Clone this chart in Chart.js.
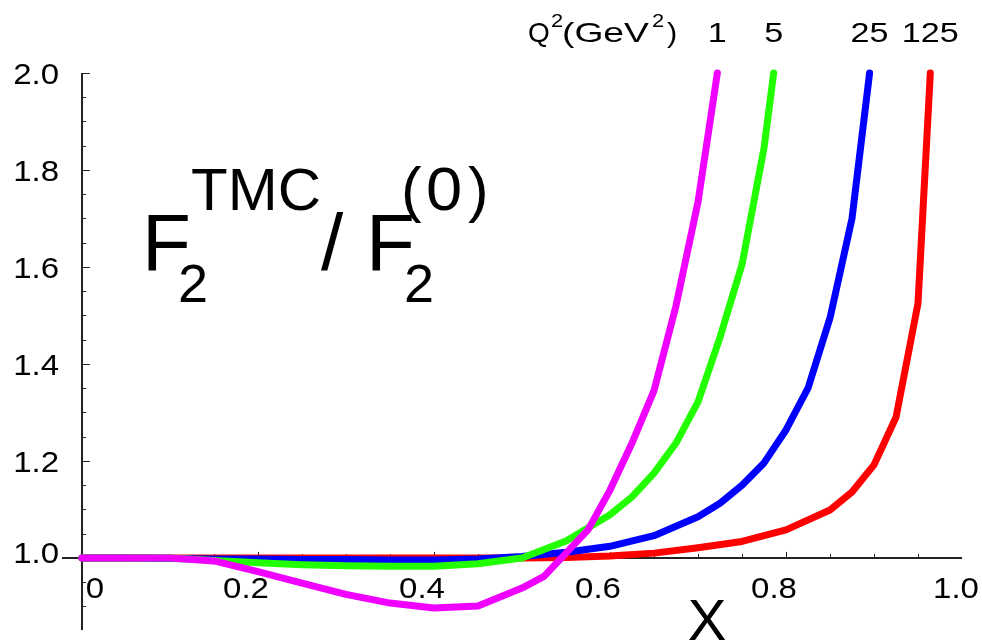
<!DOCTYPE html>
<html>
<head>
<meta charset="utf-8">
<script src="https://cdn.jsdelivr.net/npm/chart.js@4.4.1/dist/chart.umd.min.js"></script>
<style>
  html, body { margin: 0; padding: 0; background: #ffffff; }
  canvas { display: block; }
</style>
</head>
<body>
<canvas id="chart" width="982" height="643"></canvas>
<script>
// Q^2 values (GeV^2) of the four curves
const Q2_LABELS = ['1', '5', '25', '125'];

// Q^2 = 1 GeV^2
const x_q1 = [0, 0.05, 0.1, 0.15, 0.2, 0.25, 0.3, 0.35, 0.4, 0.45, 0.5, 0.525, 0.55, 0.575, 0.6, 0.625, 0.65, 0.675, 0.7, 0.722];
const ratio_q1 = [1.0, 1.0, 1.0, 0.994, 0.972, 0.948, 0.925, 0.907, 0.897, 0.901, 0.938, 0.962, 1.01, 1.058, 1.14, 1.237, 1.345, 1.52, 1.734, 2.0];

// Q^2 = 5 GeV^2
const x_q5 = [0, 0.05, 0.1, 0.15, 0.2, 0.25, 0.3, 0.35, 0.4, 0.45, 0.5, 0.55, 0.6, 0.625, 0.65, 0.675, 0.7, 0.725, 0.75, 0.775, 0.786];
const ratio_q5 = [1.0, 1.0, 1.0, 0.995, 0.99, 0.986, 0.984, 0.983, 0.983, 0.988, 1.0, 1.035, 1.089, 1.126, 1.175, 1.237, 1.322, 1.455, 1.605, 1.845, 2.0];

// Q^2 = 25 GeV^2
const x_q25 = [0, 0.05, 0.1, 0.15, 0.2, 0.25, 0.3, 0.35, 0.4, 0.45, 0.5, 0.55, 0.6, 0.65, 0.7, 0.725, 0.75, 0.775, 0.8, 0.825, 0.85, 0.875, 0.895];
const ratio_q25 = [1.0, 1.0, 0.999, 0.998, 0.998, 0.997, 0.997, 0.996, 0.996, 0.998, 1.003, 1.012, 1.024, 1.046, 1.085, 1.113, 1.15, 1.196, 1.264, 1.35, 1.495, 1.70, 2.0];

// Q^2 = 125 GeV^2
const x_q125 = [0, 0.1, 0.2, 0.3, 0.4, 0.5, 0.55, 0.6, 0.65, 0.7, 0.75, 0.8, 0.85, 0.875, 0.9, 0.925, 0.95, 0.964];
const ratio_q125 = [1.0, 1.0, 1.0, 1.0, 1.0, 1.0, 1.001, 1.004, 1.01, 1.021, 1.034, 1.058, 1.099, 1.136, 1.192, 1.29, 1.525, 2.0];

// Axis tick labels
const X_TICK_VALUES = [0, 0.2, 0.4, 0.6, 0.8, 1.0];
const X_TICK_LABELS = ['0', '0.2', '0.4', '0.6', '0.8', '1.0'];
const Y_TICK_VALUES = [1.0, 1.2, 1.4, 1.6, 1.8, 2.0];
const Y_TICK_LABELS = ['1.0', '1.2', '1.4', '1.6', '1.8', '2.0'];

const COLORS = ['#f000ff', '#22ff00', '#0000ff', '#ff0000'];
const FONT = '"Liberation Sans", Arial, Helvetica, sans-serif';

function toPoints(xs, ys) {
  return xs.map((x, i) => ({ x: x, y: ys[i] }));
}

const seriesX = [x_q1, x_q5, x_q25, x_q125];
const seriesY = [ratio_q1, ratio_q5, ratio_q25, ratio_q125];

// First dataset is painted last, so Q^2 = 1 ends up on top
const datasets = seriesX.map((xs, i) => ({
  label: 'Q2 = ' + Q2_LABELS[i],
  data: toPoints(xs, seriesY[i]),
  borderColor: COLORS[i],
  backgroundColor: COLORS[i],
  borderWidth: 7,
  pointRadius: 0,
  tension: 0,
  fill: false,
  clip: false,
  borderCapStyle: 'round',
  borderJoinStyle: 'round'
}));

function textScaled(ctx, str, x, y, sx, align) {
  ctx.save();
  ctx.translate(x, y);
  ctx.scale(sx, 1);
  ctx.textAlign = align || 'left';
  ctx.fillText(str, 0, 0);
  ctx.restore();
}

// Axes crossing at (0, 1.0) with inward ticks
const crossedAxes = {
  id: 'crossedAxes',
  beforeDatasetsDraw(chart) {
    const ctx = chart.ctx;
    const xs = chart.scales.x;
    const ys = chart.scales.y;
    const x0 = xs.getPixelForValue(0);
    const y1 = ys.getPixelForValue(1.0);
    ctx.save();
    ctx.strokeStyle = '#222222';
    ctx.lineWidth = 2;
    ctx.beginPath();
    ctx.moveTo(xs.left, y1);
    ctx.lineTo(xs.getPixelForValue(1.0), y1);
    ctx.moveTo(x0, ys.getPixelForValue(2.0));
    ctx.lineTo(x0, ys.bottom);
    ctx.stroke();

    ctx.lineWidth = 1;
    ctx.beginPath();
    for (let k = 1; k <= 19; k++) {
      const v = k * 0.05;
      const px = Math.round(xs.getPixelForValue(v)) + 0.5;
      const len = (k % 4 === 0) ? 6 : 4;
      ctx.moveTo(px, y1);
      ctx.lineTo(px, y1 - len);
    }
    for (let k = -2; k <= 20; k++) {
      if (k === 0) continue;
      const v = 1 + k * 0.05;
      const py = Math.round(ys.getPixelForValue(v)) + 0.5;
      const len = (k % 4 === 0) ? 8 : 4;
      ctx.moveTo(x0, py);
      ctx.lineTo(x0 + len, py);
    }
    ctx.stroke();
    ctx.restore();
  },
  afterDraw(chart) {
    const ctx = chart.ctx;
    const xs = chart.scales.x;
    const ys = chart.scales.y;
    const y1 = ys.getPixelForValue(1.0);
    ctx.save();
    ctx.fillStyle = '#000000';
    ctx.textBaseline = 'alphabetic';

    // x tick labels
    ctx.font = '30px ' + FONT;
    const xShift = [13, -12, -12, -12, -12, -6];
    X_TICK_VALUES.forEach((v, i) => {
      textScaled(ctx, X_TICK_LABELS[i], xs.getPixelForValue(v) + xShift[i], y1 + 40, 1.1, 'center');
    });

    // y tick labels
    const yShift = [-6, 0, 0, 0, 0, 0];
    Y_TICK_VALUES.forEach((v, i) => {
      textScaled(ctx, Y_TICK_LABELS[i], 59, ys.getPixelForValue(v) + 11 + yShift[i], 1.1, 'right');
    });

    // x axis title
    ctx.font = '58px ' + FONT;
    textScaled(ctx, 'X', 707, 640, 1.0, 'center');

    // Q^2 header and values above each curve end
    ctx.font = '28px ' + FONT;
    textScaled(ctx, 'Q', 528, 42, 1.0);
    ctx.font = '19px ' + FONT;
    textScaled(ctx, '2', 551, 27, 1.15);
    ctx.font = '28px ' + FONT;
    textScaled(ctx, '(GeV', 562, 42, 1.33);
    ctx.font = '19px ' + FONT;
    textScaled(ctx, '2', 652, 27, 1.15);
    ctx.font = '28px ' + FONT;
    textScaled(ctx, ')', 667, 42, 1.1);
    seriesX.forEach((xsArr, i) => {
      const xEnd = xsArr[xsArr.length - 1];
      textScaled(ctx, Q2_LABELS[i], xs.getPixelForValue(xEnd), 42, 1.22, 'center');
    });

    // F2^TMC / F2^(0)
    ctx.font = '80px ' + FONT;
    textScaled(ctx, 'F', 142, 270, 1.0);
    ctx.font = '54px ' + FONT;
    textScaled(ctx, '2', 178, 302, 1.0);
    ctx.font = '60px ' + FONT;
    textScaled(ctx, 'TMC', 191, 210, 1.0);
    ctx.font = '80px ' + FONT;
    textScaled(ctx, '/', 321, 270, 1.0);
    textScaled(ctx, 'F', 366, 270, 1.0);
    ctx.font = '54px ' + FONT;
    textScaled(ctx, '2', 404, 302, 1.0);
    ctx.font = '62px ' + FONT;
    textScaled(ctx, '(', 401, 210, 1.0);
    textScaled(ctx, '0', 426, 210, 1.05);
    textScaled(ctx, ')', 468, 210, 1.0);
    ctx.restore();
  }
};

new Chart(document.getElementById('chart'), {
  type: 'line',
  data: { datasets: datasets },
  options: {
    responsive: false,
    animation: false,
    layout: { padding: { left: 62, right: 20, top: 73, bottom: 13 } },
    plugins: { legend: { display: false }, tooltip: { enabled: false } },
    scales: {
      x: { type: 'linear', min: -0.02273, max: 1.0, display: false },
      y: { type: 'linear', min: 0.8515, max: 2.0, display: false }
    }
  },
  plugins: [crossedAxes]
});
</script>
</body>
</html>
